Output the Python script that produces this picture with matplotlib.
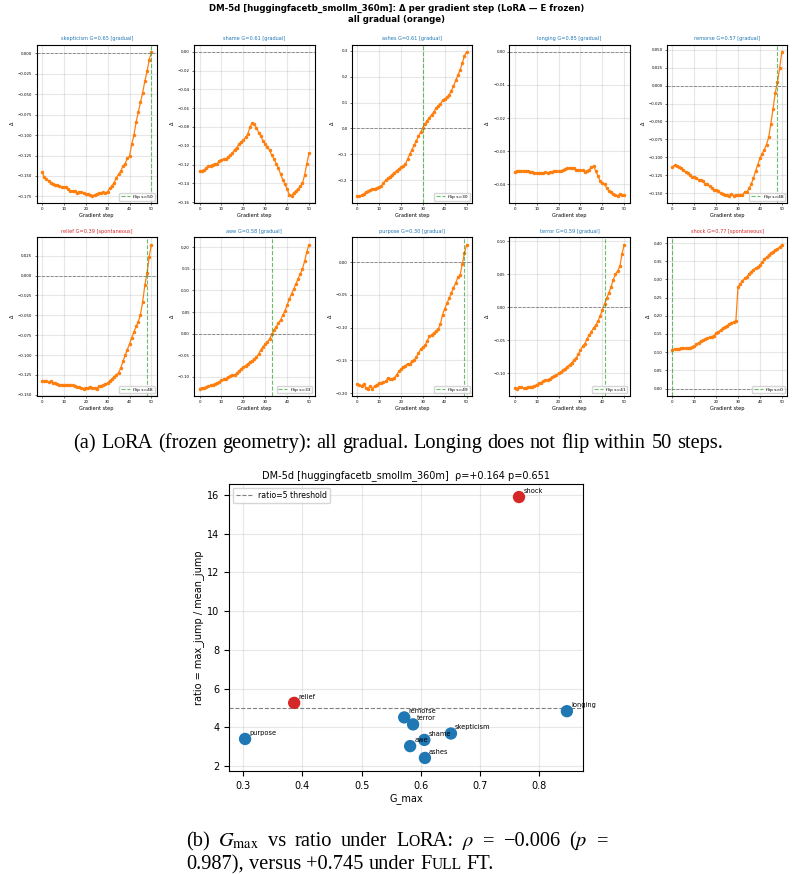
import numpy as np
import matplotlib
import matplotlib.pyplot as plt
matplotlib.use("Agg")

plt.rcParams['mathtext.fontset'] = 'stix'

W, H = 794, 874

steps = np.arange(51)
emotions = ["skepticism", "shame", "ashes", "longing", "remorse",
            "relief", "awe", "purpose", "terror", "shock"]
g_max = [0.651, 0.606, 0.607, 0.847, 0.572, 0.386, 0.582, 0.303, 0.587, 0.766]
ratio = [3.69, 3.36, 2.43, 4.84, 4.52, 5.27, 3.04, 3.41, 4.16, 15.88]
regime = ["gradual", "gradual", "gradual", "gradual", "gradual",
          "spontaneous", "gradual", "gradual", "gradual", "spontaneous"]
flip_step = [50, None, 30, None, 48, 48, 33, 49, 41, 0]

delta_skepticism = [-0.1455, -0.151, -0.154, -0.156, -0.158, -0.160, -0.161, -0.161, -0.162, -0.164,
                    -0.164, -0.163, -0.166, -0.168, -0.168, -0.168, -0.171, -0.169, -0.170, -0.171,
                    -0.172, -0.172, -0.173, -0.174, -0.173, -0.172, -0.171, -0.171, -0.170, -0.171,
                    -0.169, -0.165, -0.162, -0.158, -0.152, -0.148, -0.144, -0.138, -0.135, -0.128,
                    -0.126, -0.111, -0.100, -0.084, -0.072, -0.060, -0.048, -0.034, -0.022, -0.008,
                    0.002]
delta_shame = [-0.127, -0.127, -0.126, -0.124, -0.122, -0.121, -0.120, -0.119, -0.119, -0.116,
               -0.115, -0.114, -0.114, -0.112, -0.110, -0.108, -0.104, -0.102, -0.098, -0.096,
               -0.094, -0.091, -0.088, -0.080, -0.076, -0.077, -0.081, -0.086, -0.090, -0.095,
               -0.098, -0.101, -0.105, -0.110, -0.114, -0.119, -0.124, -0.130, -0.136, -0.141,
               -0.146, -0.152, -0.153, -0.150, -0.148, -0.146, -0.143, -0.140, -0.131, -0.119,
               -0.108]
delta_ashes = [-0.259, -0.259, -0.258, -0.252, -0.247, -0.243, -0.238, -0.234, -0.232, -0.229,
               -0.226, -0.222, -0.210, -0.200, -0.193, -0.186, -0.178, -0.170, -0.163, -0.156,
               -0.150, -0.145, -0.138, -0.118, -0.100, -0.082, -0.065, -0.048, -0.030, -0.015,
               0.003, 0.018, 0.030, 0.042, 0.052, 0.064, 0.078, 0.088, 0.094, 0.108,
               0.114, 0.120, 0.130, 0.145, 0.163, 0.185, 0.205, 0.225, 0.252, 0.278,
               0.296]
delta_longing = [-0.0362, -0.0361, -0.0360, -0.0360, -0.0359, -0.0360, -0.0361, -0.0362, -0.0363, -0.0365,
                 -0.0366, -0.0366, -0.0365, -0.0365, -0.0364, -0.0365, -0.0364, -0.0362, -0.0361, -0.0361,
                 -0.0361, -0.0360, -0.0358, -0.0355, -0.0352, -0.0350, -0.0351, -0.0352, -0.0356, -0.0358,
                 -0.0358, -0.0358, -0.0362, -0.0360, -0.0356, -0.0347, -0.0345, -0.0360, -0.0375, -0.0390,
                 -0.0396, -0.0400, -0.0411, -0.0420, -0.0424, -0.0429, -0.0433, -0.0434, -0.0430, -0.0433,
                 -0.0432]
delta_remorse = [-0.113, -0.111, -0.112, -0.113, -0.115, -0.118, -0.120, -0.121, -0.124, -0.127,
                 -0.127, -0.128, -0.131, -0.132, -0.133, -0.137, -0.137, -0.140, -0.143, -0.145,
                 -0.145, -0.146, -0.150, -0.151, -0.152, -0.152, -0.153, -0.151, -0.153, -0.152,
                 -0.152, -0.152, -0.152, -0.148, -0.148, -0.143, -0.137, -0.129, -0.119, -0.110,
                 -0.101, -0.095, -0.089, -0.082, -0.072, -0.053, -0.032, -0.010, 0.005, 0.024,
                 0.047]
delta_relief = [-0.133, -0.133, -0.133, -0.134, -0.133, -0.135, -0.135, -0.136, -0.137, -0.137,
                -0.138, -0.138, -0.137, -0.138, -0.138, -0.139, -0.140, -0.140, -0.141, -0.142,
                -0.141, -0.141, -0.140, -0.141, -0.141, -0.142, -0.139, -0.139, -0.138, -0.136,
                -0.135, -0.132, -0.130, -0.127, -0.125, -0.122, -0.116, -0.108, -0.100, -0.093,
                -0.086, -0.078, -0.071, -0.064, -0.058, -0.049, -0.033, -0.012, 0.003, 0.024,
                0.039]
delta_awe = [-0.127, -0.126, -0.125, -0.124, -0.122, -0.120, -0.118, -0.116, -0.114, -0.112,
             -0.108, -0.106, -0.104, -0.101, -0.099, -0.096, -0.095, -0.092, -0.086, -0.082,
             -0.078, -0.074, -0.070, -0.066, -0.063, -0.059, -0.054, -0.047, -0.038, -0.030,
             -0.025, -0.019, -0.012, -0.002, 0.008, 0.016, 0.024, 0.032, 0.042, 0.053,
             0.066, 0.080, 0.092, 0.103, 0.115, 0.127, 0.138, 0.150, 0.168, 0.190,
             0.206]
delta_purpose = [-0.186, -0.188, -0.189, -0.186, -0.192, -0.193, -0.189, -0.193, -0.189, -0.187,
                 -0.185, -0.184, -0.183, -0.182, -0.177, -0.178, -0.178, -0.177, -0.172, -0.167,
                 -0.163, -0.160, -0.158, -0.155, -0.156, -0.151, -0.150, -0.145, -0.139, -0.133,
                 -0.130, -0.127, -0.120, -0.113, -0.111, -0.108, -0.105, -0.102, -0.095, -0.080,
                 -0.071, -0.063, -0.055, -0.047, -0.039, -0.032, -0.023, -0.020, -0.003, 0.014,
                 0.027]
delta_terror = [-0.122, -0.123, -0.121, -0.121, -0.122, -0.122, -0.121, -0.120, -0.120, -0.119,
                -0.117, -0.115, -0.114, -0.112, -0.110, -0.110, -0.108, -0.106, -0.104, -0.103,
                -0.100, -0.098, -0.095, -0.093, -0.090, -0.087, -0.084, -0.080, -0.077, -0.071,
                -0.065, -0.059, -0.055, -0.048, -0.042, -0.037, -0.031, -0.027, -0.021, -0.013,
                -0.004, 0.005, 0.014, 0.022, 0.031, 0.042, 0.050, 0.055, 0.062, 0.081,
                0.095]
delta_shock = [0.106, 0.109, 0.110, 0.110, 0.111, 0.111, 0.111, 0.112, 0.112, 0.114,
               0.116, 0.122, 0.126, 0.130, 0.133, 0.136, 0.139, 0.141, 0.143, 0.145,
               0.152, 0.156, 0.160, 0.166, 0.170, 0.173, 0.177, 0.181, 0.183, 0.186,
               0.280, 0.288, 0.296, 0.303, 0.307, 0.316, 0.321, 0.327, 0.331, 0.333,
               0.341, 0.347, 0.356, 0.361, 0.367, 0.373, 0.377, 0.381, 0.384, 0.389,
               0.396]

deltas = [delta_skepticism, delta_shame, delta_ashes, delta_longing, delta_remorse,
          delta_relief, delta_awe, delta_purpose, delta_terror, delta_shock]


def px_rect(left, top, width, height):
    return [left / W, 1 - (top + height) / H, width / W, height / H]


fig = plt.figure(figsize=(W / 100, H / 100), dpi=100)

fig.text(0.5, 1 - 4 / H,
         "DM-5d [huggingfacetb_smollm_360m]: Δ per gradient step (LoRA — E frozen)\nall gradual (orange)",
         ha="center", va="top", fontsize=6.2, fontweight="bold", linespacing=1.3)

# small multiples
row_top = [44.5, 237.4]
for i, name in enumerate(emotions):
    row, col = divmod(i, 5)
    ax = fig.add_axes(px_rect(36.5 + 157.6 * col, row_top[row], 120.4, 158.3))
    ax.plot(steps, deltas[i], color="tab:orange", marker="o", markersize=1.5, linewidth=0.9)
    ax.axhline(0, color="gray", linestyle="--", linewidth=0.6)
    if flip_step[i] is not None:
        ax.axvline(flip_step[i], color="tab:green", linestyle="--", linewidth=0.8, alpha=0.7,
                   label=f"flip s={flip_step[i]}")
        ax.legend(loc="lower right", fontsize=3.2, handlelength=2, borderpad=0.4)
    tcol = "tab:red" if regime[i] == "spontaneous" else "tab:blue"
    ax.set_title(f"{name} G={g_max[i]:.2f} [{regime[i]}]", fontsize=3.6, color=tcol, pad=3)
    ax.set_xlabel("Gradient step", fontsize=3.6, labelpad=1.5)
    ax.set_ylabel("Δ", fontsize=3.6, labelpad=2)
    ax.tick_params(labelsize=2.8, length=1.5, width=0.4, pad=1.5)
    ax.grid(alpha=0.3)

# scatter
sc_colors = ["tab:red" if r == "spontaneous" else "tab:blue" for r in regime]
ax = fig.add_axes(px_rect(229, 484, 354, 287))
ax.axhline(5, color="gray", linestyle="--", linewidth=0.8, label="ratio=5 threshold")
ax.scatter(g_max, ratio, c=sc_colors, s=62, zorder=3)
for g, r, name in zip(g_max, ratio, emotions):
    ax.annotate(name, (g, r), xytext=(3, 3), textcoords="offset points", fontsize=4.8)
ax.set_title("DM-5d [huggingfacetb_smollm_360m]  ρ=+0.164 p=0.651", fontsize=7, pad=4)
ax.set_xlabel("G_max", fontsize=7, labelpad=2)
ax.set_ylabel("ratio = max_jump / mean_jump", fontsize=7, labelpad=2)
ax.tick_params(labelsize=7)
ax.legend(loc="upper left", fontsize=5.6)
ax.grid(alpha=0.3)

# captions: words made of runs, small caps faked with a smaller size
renderer = fig.canvas.get_renderer()
CAP = 14.7
SC = 11.2


def caption_line(x, baseline, words, width=None, center=False):
    placed = []
    widths = []
    for word in words:
        cx = 0.0
        runs = []
        for s, size in word:
            t = fig.text(0, 0, s, fontsize=size, family="Liberation Serif", va="baseline")
            runs.append((t, cx))
            cx += t.get_window_extent(renderer).width
        placed.append(runs)
        widths.append(cx)
    if width is not None:
        gap = (width - sum(widths)) / (len(words) - 1)
    else:
        gap = 0.25 * CAP * 100 / 72
    total = sum(widths) + gap * (len(words) - 1)
    x0 = x - total / 2 if center else x
    for runs, w in zip(placed, widths):
        for t, off in runs:
            t.set_position(((x0 + off) / W, 1 - baseline / H))
        x0 += w + gap


def words_of(text):
    return [[(w, CAP)] for w in text.split(" ")]


caption_line(398, 448,
             [[("(a)", CAP)], [("L", CAP), ("O", SC), ("RA", CAP)]]
             + words_of("(frozen geometry): all gradual. Longing does not flip within 50 steps."),
             center=True)
caption_line(186, 846,
             [[("(b)", CAP)], [(r"$G_{\mathrm{max}}$", CAP)]] + words_of("vs ratio under")
             + [[("L", CAP), ("O", SC), ("RA:", CAP)], [(r"$\rho$", CAP)], [("=", CAP)],
                [("−0.006", CAP)], [(r"($p$", CAP)], [("=", CAP)]],
             width=422)
caption_line(186, 869,
             words_of("0.987), versus +0.745 under") + [[("F", CAP), ("ULL", SC)], [("FT.", CAP)]])

fig.savefig("out.png", dpi=100)
